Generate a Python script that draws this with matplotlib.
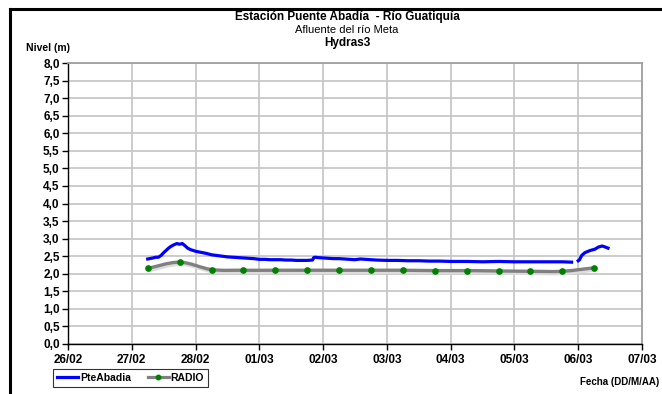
import numpy as np
import matplotlib
matplotlib.use("Agg")
import matplotlib.pyplot as plt
import matplotlib.dates as mdates
import matplotlib.transforms as mtransforms
from matplotlib.path import Path
from matplotlib.patches import PathPatch
from matplotlib.lines import Line2D
from matplotlib.ticker import FuncFormatter, MultipleLocator

plt.rcParams['font.family'] = ['Liberation Sans', 'DejaVu Sans']

# ---- data (hours after 27/02/2019 00:00) ----
base = np.datetime64('2019-02-27T00:00')

pte_hours_1 = [6, 8, 9, 10, 11, 12, 13, 14, 15, 16, 17, 18, 19, 20, 21, 22, 24, 26, 28, 30,
               32, 34, 36, 38, 40, 42, 44, 46, 48, 50, 52, 54, 56, 58, 60, 62, 64, 66, 68,
               68.5, 69, 70, 72, 74, 76, 78, 80, 82, 84, 86, 88, 90, 92, 96, 100, 104, 108,
               112, 116, 120, 126, 132, 138, 144, 150, 156, 162, 165.5]
pte_vals_1 = [2.42, 2.45, 2.47, 2.47, 2.52, 2.60, 2.67, 2.74, 2.79, 2.83, 2.86, 2.84, 2.86, 2.80,
              2.73, 2.69, 2.64, 2.61, 2.58, 2.54, 2.52, 2.50, 2.48, 2.47, 2.46, 2.45, 2.44, 2.43,
              2.41, 2.41, 2.40, 2.40, 2.40, 2.39, 2.39, 2.38, 2.38, 2.38, 2.39,
              2.46, 2.47, 2.46, 2.45, 2.44, 2.43, 2.43, 2.42, 2.41, 2.40, 2.42, 2.41, 2.40, 2.39,
              2.38, 2.38, 2.37, 2.37, 2.36, 2.36, 2.35, 2.35, 2.34, 2.35, 2.34, 2.34, 2.34, 2.34, 2.33]

pte_hours_2 = [168, 168.5, 169.3, 170.5, 172.4, 174.3, 175.6, 177, 178.2, 179.2]
pte_vals_2 = [2.37, 2.40, 2.52, 2.60, 2.66, 2.70, 2.76, 2.79, 2.76, 2.73]

radio_hours = [6, 18, 30, 42, 54, 66, 78, 90, 102, 114, 126, 138, 150, 162, 174]
radio_vals = [2.15, 2.33, 2.12, 2.10, 2.10, 2.10, 2.10, 2.10, 2.10, 2.09, 2.09, 2.08, 2.07, 2.07, 2.17]

x_ticks = ['2019-02-26', '2019-02-27', '2019-02-28', '2019-03-01', '2019-03-02',
           '2019-03-03', '2019-03-04', '2019-03-05', '2019-03-06', '2019-03-07']


def to_num(hours):
    t = base + (np.array(hours) * 60).astype('timedelta64[m]')
    return mdates.date2num(t.astype('datetime64[s]').astype(object))


W, H = 662, 394
fig = plt.figure(figsize=(W / 100, H / 100), dpi=100)
ax = fig.add_axes([68 / W, 1 - 344 / H, (642 - 68) / W, (344 - 63) / H])

# grid
ax.set_axisbelow(True)
ax.grid(True, color='#c8c8c8', lw=1.3)

# RADIO smoothed (Catmull-Rom like Excel smoothing)
rx = to_num(radio_hours)
ry = np.array(radio_vals)
verts = [(rx[0], ry[0])]
codes = [Path.MOVETO]
n = len(rx)
for i in range(n - 1):
    p0 = (rx[i - 1], ry[i - 1]) if i > 0 else (rx[i], ry[i])
    p1 = (rx[i], ry[i])
    p2 = (rx[i + 1], ry[i + 1])
    p3 = (rx[i + 2], ry[i + 2]) if i + 2 < n else p2
    c1 = (p1[0] + (p2[0] - p0[0]) / 6, p1[1] + (p2[1] - p0[1]) / 6)
    c2 = (p2[0] - (p3[0] - p1[0]) / 6, p2[1] - (p3[1] - p1[1]) / 6)
    verts += [c1, c2, p2]
    codes += [Path.CURVE4] * 3
path = Path(verts, codes)
shadow_tr = ax.transData + mtransforms.ScaledTranslation(1.5 / 100, -2 / 100, fig.dpi_scale_trans)
ax.add_patch(PathPatch(path, fill=False, edgecolor='#dcdcdc', lw=2.6, transform=shadow_tr, zorder=2))
ax.add_patch(PathPatch(path, fill=False, edgecolor='#808080', lw=2.4, transform=ax.transData, zorder=3))
ax.plot(rx, ry, ls='none', marker='o', ms=3.8, color='#008000', mec='#008000', zorder=4)

# PteAbadia
ax.plot(to_num(pte_hours_1), pte_vals_1, color='#0000ff', lw=2.3, zorder=5)
ax.plot(to_num(pte_hours_2), pte_vals_2, color='#0000ff', lw=2.3, zorder=5)

# axes
xt = mdates.date2num([np.datetime64(d).astype('datetime64[s]').astype(object) for d in x_ticks])
ax.set_xlim(xt[0], xt[-1])
ax.set_xticks(xt)
ax.set_xticklabels([np.datetime64(d).astype(object).strftime('%d/%m') for d in x_ticks])
ax.set_ylim(0, 8)
ax.yaxis.set_major_locator(MultipleLocator(0.5))
ax.yaxis.set_major_formatter(FuncFormatter(lambda v, p: f"{v:.1f}".replace('.', ',')))
for lab in ax.get_xticklabels() + ax.get_yticklabels():
    lab.set_fontweight('bold')
    lab.set_fontsize(8.5)
ax.tick_params(axis='both', direction='out', length=4, width=1, color='black', pad=2)
ax.tick_params(axis='x', pad=3)
for s in ['left', 'bottom']:
    ax.spines[s].set_color('black')
    ax.spines[s].set_linewidth(1)
for s in ['top', 'right']:
    ax.spines[s].set_color('#a0a0a0')
    ax.spines[s].set_linewidth(1.3)

# titles
cx = 347 / W
fig.text(cx, 1 - 17 / H, 'Estación Puente Abadía  - Río Guatiquía', ha='center', va='center',
         fontsize=8.5, fontweight='bold')
fig.text(cx, 1 - 30 / H, 'Afluente del río Meta', ha='center', va='center', fontsize=8)
fig.text(cx, 1 - 43 / H, 'Hydras3', ha='center', va='center', fontsize=8.5, fontweight='bold')
fig.text(26 / W, 1 - 48 / H, 'Nivel (m)', ha='left', va='center', fontsize=7.5, fontweight='bold')
fig.text(659 / W, 1 - 382 / H, 'Fecha (DD/M/AA)', ha='right', va='center', fontsize=7, fontweight='bold')

# legend
handles = [Line2D([], [], color='#0000ff', lw=2.3),
           Line2D([], [], color='#808080', lw=2.3, marker='o', ms=3.2, mfc='#008000', mec='#008000')]
leg = fig.legend(handles, ['PteAbadia', 'RADIO'], loc='lower left',
                 bbox_to_anchor=(53 / W, 1 - 387 / H), ncol=2, frameon=True, fancybox=False,
                 prop={'size': 7.5, 'weight': 'bold'}, handlelength=2.0, handletextpad=0.2,
                 columnspacing=1.6, borderpad=0.4, borderaxespad=0)
leg.get_frame().set_edgecolor('black')
leg.get_frame().set_linewidth(0.8)

# figure border (left and top)
fig.add_artist(Line2D([10 / W, 10 / W], [0, 1 - 9 / H], color='black', lw=2.2, transform=fig.transFigure))
fig.add_artist(Line2D([10 / W, 1], [1 - 9 / H, 1 - 9 / H], color='black', lw=2.2, transform=fig.transFigure))

fig.savefig('out.png', dpi=100)
